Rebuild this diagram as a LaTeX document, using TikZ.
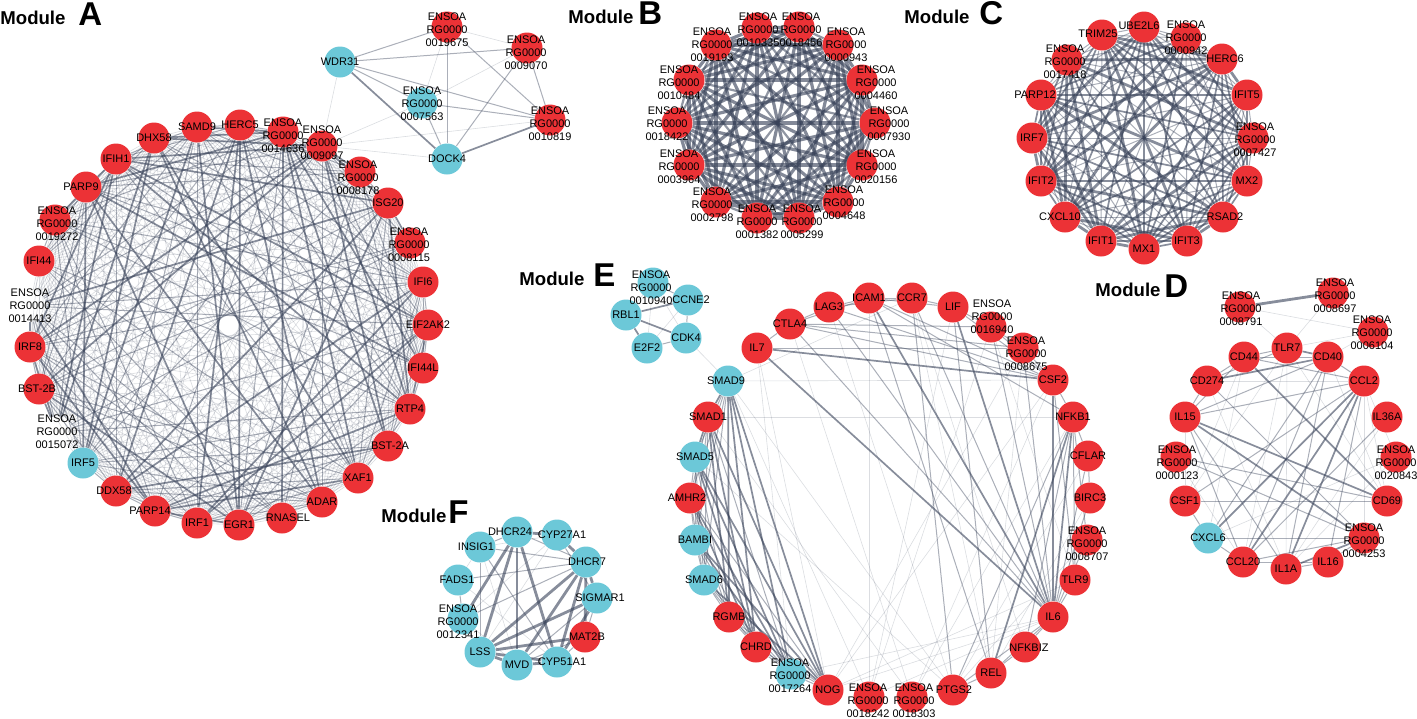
\documentclass[tikz,border=0pt]{standalone}
\usepackage{fontspec}
\setmainfont{Liberation Sans}
\pgfdeclarelayer{edges}\pgfdeclarelayer{labels}
\pgfsetlayers{edges,main,labels}
\definecolor{nred}{RGB}{236,50,54}
\definecolor{ncyan}{RGB}{108,200,216}
\definecolor{ecol}{RGB}{55,65,88}
\tikzset{
 rn/.style={circle,fill=nred,minimum size=15.5pt,inner sep=0pt},
 cn/.style={circle,fill=ncyan,minimum size=15.5pt,inner sep=0pt},
 nn/.style={circle,minimum size=15.5pt,inner sep=0pt},
 lbl/.style={font=\fontsize{5.5}{6.5}\selectfont,align=center,inner sep=0pt,text=black},
 e0/.style={draw=ecol,line width=0.3pt,draw opacity=0.18},
 e1/.style={draw=ecol,line width=0.5pt,draw opacity=0.42},
 e2/.style={draw=ecol,line width=0.85pt,draw opacity=0.6},
 e3/.style={draw=ecol,line width=1.4pt,draw opacity=0.6},
 eb1/.style={draw=ecol,line width=1.1pt,draw opacity=0.55},
 eb2/.style={draw=ecol,line width=1.6pt,draw opacity=0.62},
 modw/.style={font=\bfseries\fontsize{9.3}{10}\selectfont,anchor=base west,inner sep=0pt},
 modl/.style={font=\bfseries\fontsize{16.5}{17}\selectfont,anchor=base west,inner sep=0pt},
}
\newcommand\GNode[5]{\node[#2] (#1) at (#3) {};\begin{pgfonlayer}{labels}\node[lbl] (#1-l) at (#4) {#5};\end{pgfonlayer}}
\newcommand\ens[1]{ENSOA\\RG0000\\#1}
\begin{document}
\begin{tikzpicture}[x=0.5pt,y=-0.5pt]
\useasboundingbox (0,0) rectangle (1417,718);
% titles
\node[modw] (tA) at (0,24) {Module}; \node[modl] (tAl) at (78,25) {A};
\node[modw] (tB) at (568,23) {Module}; \node[modl] (tBl) at (638,24) {B};
\node[modw] (tC) at (904,23) {Module}; \node[modl] (tCl) at (979,24) {C};
\node[modw] (tD) at (1095,296) {Module}; \node[modl] (tDl) at (1164,297) {D};
\node[modw] (tE) at (519,285) {Module}; \node[modl] (tEl) at (593,286) {E};
\node[modw] (tF) at (381,522) {Module}; \node[modl] (tFl) at (448,523) {F};
% Module A
\GNode{a1}{rn}{240,125}{240,125}{HERC5}
\GNode{a2}{rn}{283,132}{283,136}{\ens{0014636}}
\GNode{a3}{rn}{322,146}{322,143}{\ens{0009097}}
\GNode{a4}{rn}{360,172}{358,178}{\ens{0008178}}
\GNode{a5}{rn}{388,203}{388,203}{ISG20}
\GNode{a6}{rn}{410,243}{409,245}{\ens{0008115}}
\GNode{a7}{rn}{423,282}{423,282}{IFI6}
\GNode{a8}{rn}{428,325}{428,325}{EIF2AK2}
\GNode{a9}{rn}{423,368}{423,368}{IFI44L}
\GNode{a10}{rn}{410,409}{410,409}{RTP4}
\GNode{a11}{rn}{388,446}{390,446}{BST-2A}
\GNode{a12}{rn}{358,478}{358,478}{XAF1}
\GNode{a13}{rn}{322,502}{322,502}{ADAR}
\GNode{a14}{rn}{282,518}{288,518}{RNASEL}
\GNode{a15}{rn}{239,525}{239,525}{EGR1}
\GNode{a16}{rn}{197,523}{197,523}{IRF1}
\GNode{a17}{rn}{155,511}{150,511}{PARP14}
\GNode{a18}{rn}{116,491}{114,491}{DDX58}
\GNode{a19}{cn}{83,463}{83,463}{IRF5}
\GNode{a20}{nn}{57,432}{57,432}{\ens{0015072}}
\GNode{a21}{rn}{39,389}{37,389}{BST-2B}
\GNode{a22}{rn}{30,347}{30,347}{IRF8}
\GNode{a23}{nn}{30,306}{30,306}{\ens{0014413}}
\GNode{a24}{rn}{39,261}{39,261}{IFI44}
\GNode{a25}{rn}{55,220}{57,224}{\ens{0019272}}
\GNode{a26}{rn}{86,187}{81,187}{PARP9}
\GNode{a27}{rn}{116,159}{116,159}{IFIH1}
\GNode{a28}{rn}{154,138}{154,138}{DHX58}
\GNode{a29}{rn}{197,127}{197,127}{SAMD9}
% side cluster
\GNode{s1}{cn}{340,62}{340,62}{WDR31}
\GNode{s2}{rn}{447,27}{447,30}{\ens{0019675}}
\GNode{s3}{rn}{527,48}{526,53}{\ens{0009070}}
\GNode{s4}{cn}{422,103}{422,104}{\ens{0007563}}
\GNode{s5}{rn}{550,120}{550,124}{\ens{0010819}}
\GNode{s6}{cn}{447,159}{447,159}{DOCK4}
% Module B
\GNode{b1}{rn}{757,28}{758,30}{\ens{0010335}}
\GNode{b2}{rn}{799,27}{801,30}{\ens{0018456}}
\GNode{b3}{rn}{838,45}{846,45}{\ens{0000943}}
\GNode{b4}{rn}{862,80}{876,83}{\ens{0004460}}
\GNode{b5}{rn}{875,123}{889,124}{\ens{0007930}}
\GNode{b6}{rn}{862,165}{876,167}{\ens{0020156}}
\GNode{b7}{rn}{838,202}{844,203}{\ens{0004648}}
\GNode{b8}{rn}{799,218}{802,222}{\ens{0005299}}
\GNode{b9}{rn}{757,218}{757,222}{\ens{0001382}}
\GNode{b10}{rn}{716,202}{712,205}{\ens{0002798}}
\GNode{b11}{rn}{689,165}{679,167}{\ens{0003964}}
\GNode{b12}{rn}{677,123}{667,124}{\ens{0018422}}
\GNode{b13}{rn}{689,80}{679,83}{\ens{0010484}}
\GNode{b14}{rn}{716,45}{712,45}{\ens{0019193}}
% Module C
\GNode{c1}{rn}{1144,27}{1139,26}{UBE2L6}
\GNode{c2}{rn}{1186,38}{1186,38}{\ens{0000942}}
\GNode{c3}{rn}{1222,59}{1225,59}{HERC6}
\GNode{c4}{rn}{1247,95}{1247,95}{IFIT5}
\GNode{c5}{rn}{1253,138}{1255,140}{\ens{0007427}}
\GNode{c6}{rn}{1247,181}{1247,181}{MX2}
\GNode{c7}{rn}{1223,217}{1225,217}{RSAD2}
\GNode{c8}{rn}{1187,241}{1187,241}{IFIT3}
\GNode{c9}{rn}{1144,249}{1144,249}{MX1}
\GNode{c10}{rn}{1101,241}{1101,241}{IFIT1}
\GNode{c11}{rn}{1065,217}{1060,217}{CXCL10}
\GNode{c12}{rn}{1041,181}{1041,181}{IFIT2}
\GNode{c13}{rn}{1032,138}{1032,138}{IRF7}
\GNode{c14}{rn}{1041,95}{1035,95}{PARP12}
\GNode{c15}{rn}{1067,60}{1065,62}{\ens{0017418}}
\GNode{c16}{rn}{1102,35}{1098,34}{TRIM25}
% Module D
\GNode{d1}{rn}{1240,307}{1241,309}{\ens{0008791}}
\GNode{d2}{rn}{1333,293}{1335,296}{\ens{0008697}}
\GNode{d3}{rn}{1373,332}{1372,333}{\ens{0006104}}
\GNode{d4}{rn}{1287,348}{1287,348}{TLR7}
\GNode{d5}{rn}{1328,357}{1328,357}{CD40}
\GNode{d6}{rn}{1364,381}{1364,381}{CCL2}
\GNode{d7}{rn}{1387,417}{1387,417}{IL36A}
\GNode{d8}{rn}{1396,457}{1396,463}{\ens{0020843}}
\GNode{d9}{rn}{1387,501}{1387,501}{CD69}
\GNode{d10}{rn}{1364,538}{1364,541}{\ens{0004253}}
\GNode{d11}{rn}{1328,562}{1328,562}{IL16}
\GNode{d12}{rn}{1286,569}{1286,569}{IL1A}
\GNode{d13}{rn}{1243,562}{1243,562}{CCL20}
\GNode{d14}{cn}{1208,538}{1208,538}{CXCL6}
\GNode{d15}{rn}{1185,501}{1185,501}{CSF1}
\GNode{d16}{rn}{1176,457}{1177,463}{\ens{0000123}}
\GNode{d17}{rn}{1185,417}{1185,417}{IL15}
\GNode{d18}{rn}{1207,381}{1207,381}{CD274}
\GNode{d19}{rn}{1244,357}{1244,357}{CD44}
% Module E small cluster
\GNode{g1}{cn}{653,283}{651,288}{\ens{0010940}}
\GNode{g2}{cn}{688,300}{691,300}{CCNE2}
\GNode{g3}{cn}{626,315}{626,315}{RBL1}
\GNode{g4}{cn}{686,338}{686,338}{CDK4}
\GNode{g5}{cn}{647,348}{647,348}{E2F2}
% Module E
\GNode{e1}{cn}{728,381}{726,381}{SMAD9}
\GNode{e2}{rn}{757,348}{757,348}{IL7}
\GNode{e3}{rn}{790,324}{790,324}{CTLA4}
\GNode{e4}{rn}{829,307}{829,307}{LAG3}
\GNode{e5}{rn}{869,298}{869,298}{ICAM1}
\GNode{e6}{rn}{912,298}{912,298}{CCR7}
\GNode{e7}{rn}{953,307}{953,307}{LIF}
\GNode{e8}{rn}{991,327}{992,317}{\ens{0016940}}
\GNode{e9}{rn}{1023,348}{1026,354}{\ens{0008675}}
\GNode{e10}{rn}{1053,380}{1053,380}{CSF2}
\GNode{e11}{rn}{1073,417}{1073,417}{NFKB1}
\GNode{e12}{rn}{1088,456}{1088,456}{CFLAR}
\GNode{e13}{rn}{1090,498}{1090,498}{BIRC3}
\GNode{e14}{rn}{1087,540}{1087,544}{\ens{0008707}}
\GNode{e15}{rn}{1075,580}{1075,580}{TLR9}
\GNode{e16}{rn}{1053,617}{1053,617}{IL6}
\GNode{e17}{rn}{1025,647}{1029,648}{NFKBIZ}
\GNode{e18}{rn}{991,673}{991,673}{REL}
\GNode{e19}{rn}{953,690}{954,690}{PTGS2}
\GNode{e20}{rn}{912,697}{914,701}{\ens{0018303}}
\GNode{e21}{rn}{869,697}{868,701}{\ens{0018242}}
\GNode{e22}{rn}{828,690}{828,690}{NOG}
\GNode{e23}{cn}{791,674}{790,676}{\ens{0017264}}
\GNode{e24}{rn}{756,647}{756,647}{CHRD}
\GNode{e25}{rn}{729,617}{729,617}{RGMB}
\GNode{e26}{cn}{704,580}{704,580}{SMAD6}
\GNode{e27}{cn}{695,540}{695,540}{BAMBI}
\GNode{e28}{rn}{690,498}{687,498}{AMHR2}
\GNode{e29}{cn}{695,457}{695,457}{SMAD5}
\GNode{e30}{rn}{708,417}{708,417}{SMAD1}
% Module F
\GNode{f1}{cn}{517,532}{510,532}{DHCR24}
\GNode{f2}{cn}{557,535}{562,535}{CYP27A1}
\GNode{f3}{cn}{586,562}{587,562}{DHCR7}
\GNode{f4}{cn}{597,598}{600,598}{SIGMAR1}
\GNode{f5}{rn}{585,637}{587,637}{MAT2B}
\GNode{f6}{cn}{557,662}{562,662}{CYP51A1}
\GNode{f7}{cn}{517,665}{517,665}{MVD}
\GNode{f8}{cn}{480,652}{480,652}{LSS}
\GNode{f9}{cn}{463,619}{458,622}{\ens{0012341}}
\GNode{f10}{cn}{458,580}{457,580}{FADS1}
\GNode{f11}{cn}{480,547}{476,547}{INSIG1}
% ---------------- edges ----------------
\begin{pgfonlayer}{edges}
% A
\foreach \i in {1,...,28}{
  \pgfmathtruncatemacro\js{\i+1}
  \foreach \j in {\js,...,29}{
    \pgfmathtruncatemacro\m{mod(\i*\i*5+\j*\j*3+\i*\j*7+\i+2*\j,17)}
    \ifnum\m<2 \draw[e2] (a\i)--(a\j);
    \else\ifnum\m<6 \draw[e1] (a\i)--(a\j);
    \else \draw[e0] (a\i)--(a\j);\fi\fi
  }
}
\foreach \u/\v in {s1/s2,s1/s3,s1/s4,s1/s5,s2/s6,s2/s5,s3/s6,s3/s5,s4/s5,s4/s6} \draw[e1] (\u)--(\v);
\foreach \u/\v in {s1/s6,s6/s5} \draw[e2] (\u)--(\v);
\foreach \u/\v in {s2/s3,s2/s4,s3/s4,s1/a3,a3/s6,a3/s5,a3/s4} \draw[e0] (\u)--(\v);
% B
\foreach \i in {1,...,13}{
  \pgfmathtruncatemacro\js{\i+1}
  \foreach \j in {\js,...,14}{
    \pgfmathtruncatemacro\m{mod(\i*3+\j*\j*5+\i*\j,7)}
    \ifnum\m<2 \draw[eb1] (b\i)--(b\j);
    \else \draw[eb2] (b\i)--(b\j);\fi
  }
}
% C
\foreach \i in {1,...,15}{
  \pgfmathtruncatemacro\js{\i+1}
  \foreach \j in {\js,...,16}{
    \pgfmathtruncatemacro\m{mod(\i*\i*3+\j*\j*5+\i*\j,13)}
    \ifnum\m<4 \draw[e3] (c\i)--(c\j);
    \else\ifnum\m<9 \draw[e2] (c\i)--(c\j);
    \else \draw[e1] (c\i)--(c\j);\fi\fi
  }
}
% D
\draw[e3] (d1)--(d2);
\foreach \u/\v in {d19/d9,d6/d14,d6/d13,d6/d12,d17/d9,d17/d10,d18/d5,d5/d4,d12/d10}
  \draw[e2] (\u)--(\v);
\foreach \u/\v in {d6/d15,d6/d17,d6/d11,d17/d12,d17/d13,d17/d5,d17/d19,d18/d4,d18/d10,d18/d19,d5/d14,d5/d12,d5/d19,d4/d19,d16/d10,d16/d9,d15/d9,d14/d10,d14/d13,d12/d11,d13/d10,d13/d11,d7/d13,d19/d6,d5/d6,d18/d17,d15/d14,d11/d10,d5/d13}
  \draw[e1] (\u)--(\v);
\foreach \u/\v in {d1/d3,d1/d4,d2/d4,d3/d4,d3/d5,d6/d10,d18/d6,d16/d13,d7/d12,d4/d13,d4/d12,d19/d14,d4/d9,d5/d9,d6/d9,d8/d12,d8/d14,d17/d15,d4/d15,d19/d15,d18/d12,d6/d8}
  \draw[e0] (\u)--(\v);
% E small cluster
\foreach \u/\v in {g3/g2,g3/g4,g5/g3} \draw[e2] (\u)--(\v);
\foreach \u/\v in {g2/g4,g1/g2,g5/g4} \draw[e1] (\u)--(\v);
\foreach \u/\v in {g1/g3,g1/g4,g5/g2,g1/g5,g4/e1} \draw[e0] (\u)--(\v);
% E
\foreach \u/\v in {e16/e11,e16/e10,e16/e7,e16/e5,e16/e2,e11/e18,e10/e2,
  e1/e25,e1/e24,e1/e23,e1/e22,e30/e25,e30/e24,e30/e22,e29/e24,e29/e23,e29/e22,e28/e24,e28/e23,e27/e23,e27/e22,e26/e22,e30/e29,e1/e30}
  \draw[e2] (\u)--(\v);
\foreach \u/\v in {e1/e29,e1/e28,e1/e27,e1/e26,e30/e28,e30/e27,e30/e26,e30/e23,e29/e28,e29/e27,e29/e26,e29/e25,e28/e27,e28/e26,e28/e25,e28/e22,e27/e26,e27/e25,e27/e24,e26/e25,e26/e24,e26/e23,e25/e24,e25/e23,e25/e22,e24/e23,e24/e22,e23/e22,
  e16/e15,e16/e17,e16/e18,e16/e19,e16/e12,e16/e13,e16/e14,e16/e6,e16/e3,e16/e4,e16/e8,e16/e9,e11/e17,e11/e19,e11/e15,e11/e14,e11/e12,e11/e10,e11/e5,e10/e3,e10/e4,e10/e5,e10/e7,e10/e8,e10/e9,e10/e15,e2/e3,e3/e4,e4/e5,e5/e6,e6/e7,e5/e7,e7/e8,e8/e9,e3/e5,e4/e6,e5/e18,e7/e18,e6/e19,e12/e13,e18/e17,e19/e18,e2/e9,e3/e9,e3/e8}
  \draw[e1] (\u)--(\v);
\foreach \u/\v in {e1/e21,e1/e19,e30/e20,e2/e22,e2/e23,e22/e16,e22/e15,e23/e16,e9/e22,e10/e22,e21/e16,e20/e11,e20/e10,e8/e21,e1/e6,e1/e10,e30/e11,e29/e19,e6/e18,e6/e17,e4/e19,e3/e20,e5/e21,e7/e21,e14/e19,e9/e18,e12/e19,e13/e18,e8/e15}
  \draw[e0] (\u)--(\v);
% F
\foreach \u/\v in {f1/f2,f1/f8,f1/f6,f1/f7,f1/f9,f2/f3,f3/f8,f3/f7,f3/f6,f3/f5,f6/f7,f7/f8,f6/f8,f4/f6,f8/f5,f8/f4,f3/f4}
  \draw[e3] (\u)--(\v);
\foreach \u/\v in {f11/f3,f11/f6,f11/f8,f10/f3,f9/f3,f4/f7,f5/f7,f11/f1,f10/f9,f1/f3,f4/f5,f9/f8,f5/f6,f2/f4}
  \draw[e1] (\u)--(\v);
\foreach \u/\v in {f10/f6,f9/f2,f11/f2,f10/f11,f9/f7,f2/f8,f11/f7}
  \draw[e0] (\u)--(\v);
\end{pgfonlayer}
\end{tikzpicture}
\end{document}
